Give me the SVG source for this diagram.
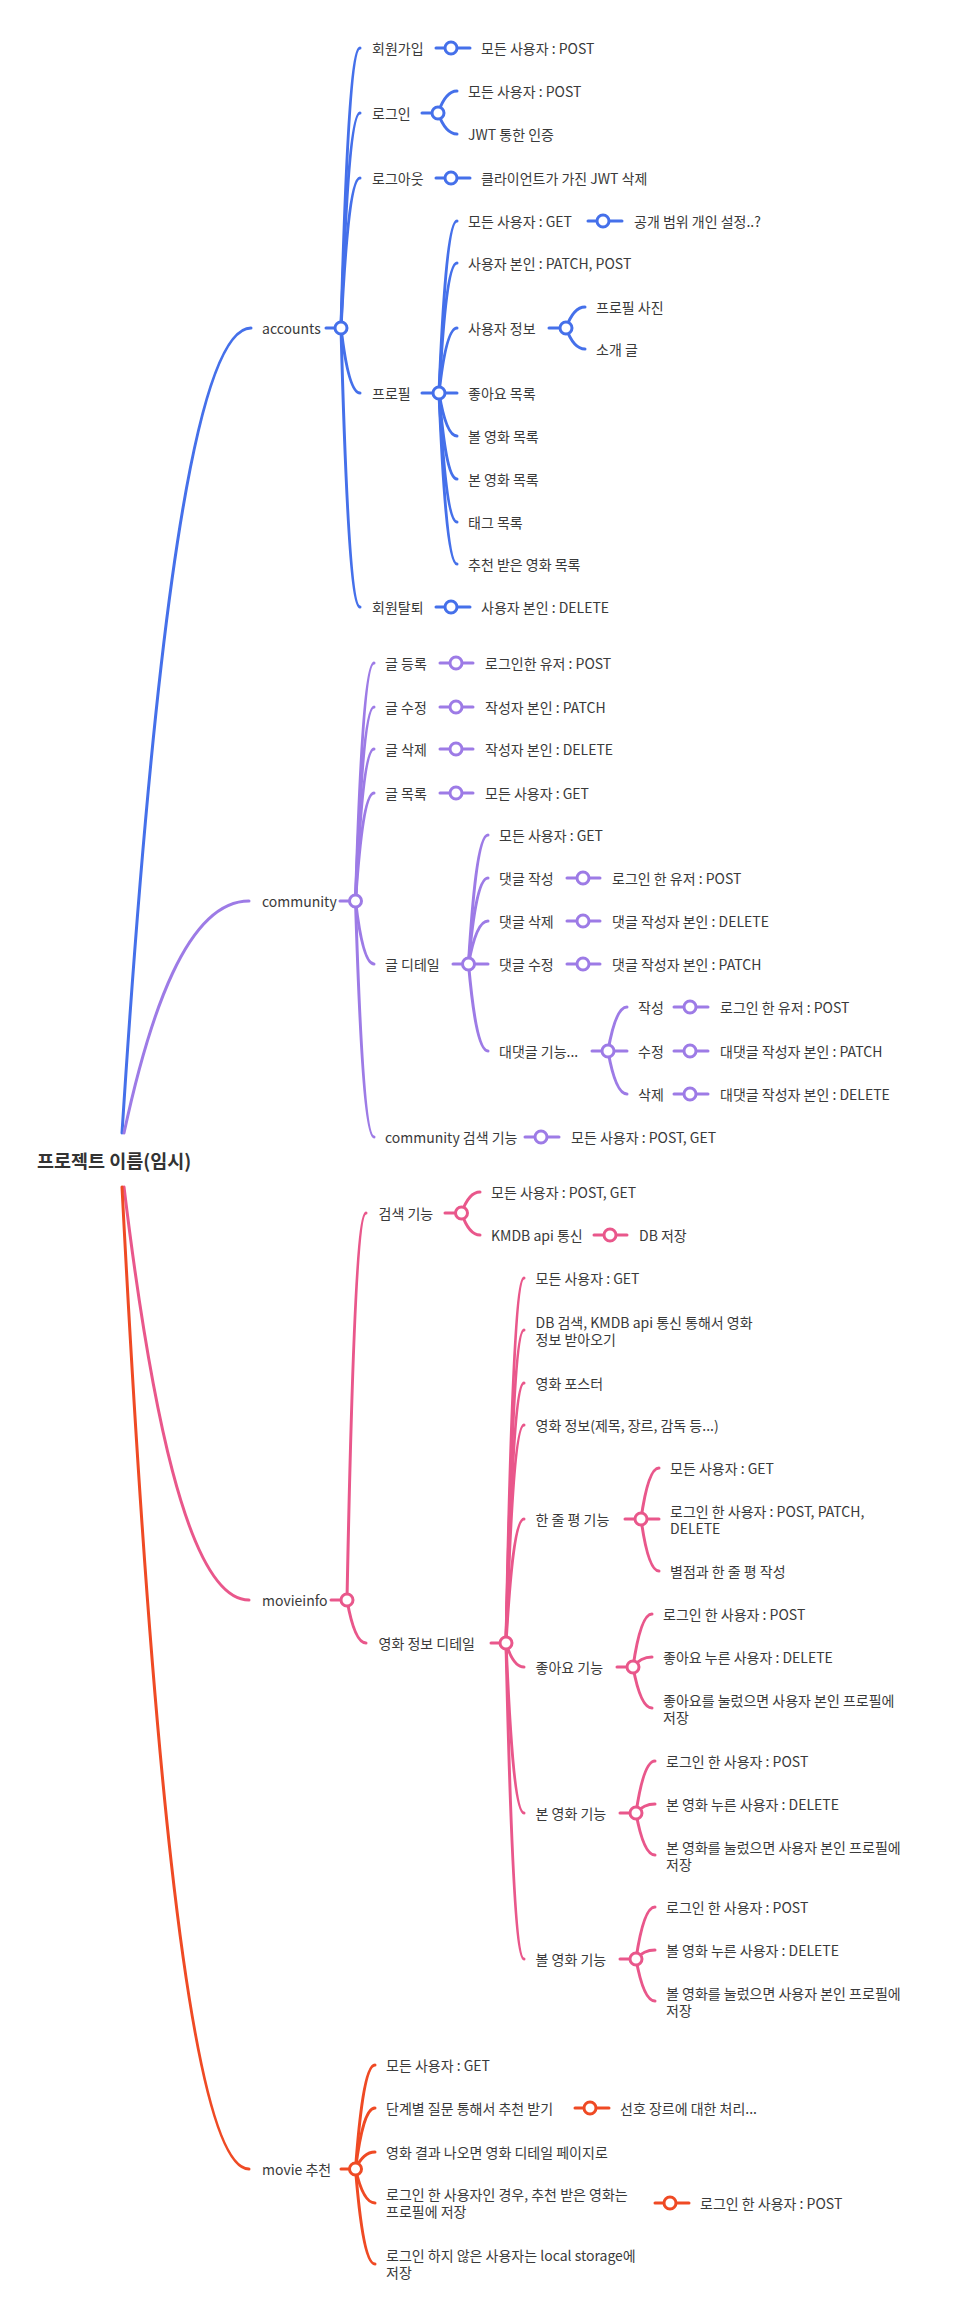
<svg xmlns="http://www.w3.org/2000/svg" width="978" height="2306" viewBox="0 0 978 2306">
<style>
.t{font-family:"Noto Sans CJK KR","Noto Sans",sans-serif;font-size:14px;fill:#3a3a3a;dominant-baseline:central}
.root{font-size:18.5px;font-weight:bold;fill:#333}
path{fill:none;stroke-width:3;stroke-linecap:round}
circle{fill:#fff;stroke-width:3}
.b{stroke:#4570ea}.p{stroke:#9d7be6}.k{stroke:#e9578b}.r{stroke:#ef4a24}
</style>
<rect width="978" height="2306" fill="#fff"/>
<g id="connectors">
<g class="b">
<path d="M122 1133 C147.8 730.5 186.5 328 251 328"/>
<path d="M326 328 H341"/>
<path d="M341 328 C344.8 188 350.5 48 360 48"/>
<path d="M341 328 C344.8 220.5 350.5 113 360 113"/>
<path d="M341 328 C344.8 253 350.5 178 360 178"/>
<path d="M341 328 C344.8 360.5 350.5 393 360 393"/>
<path d="M341 328 C344.8 467.5 350.5 607 360 607"/>
<path d="M436 48 H470"/>
<path d="M422 113 H438"/>
<path d="M438 113 C441.8 102 447.5 91 457 91"/>
<path d="M438 113 C441.8 123.5 447.5 134 457 134"/>
<path d="M436 178 H470"/>
<path d="M422 393 H439"/>
<path d="M439 393 C442.6 307 448 221 457 221"/>
<path d="M439 393 C442.6 328 448 263 457 263"/>
<path d="M439 393 C442.6 360.5 448 328 457 328"/>
<path d="M439 393 H457"/>
<path d="M439 393 C442.6 414.5 448 436 457 436"/>
<path d="M439 393 C442.6 436 448 479 457 479"/>
<path d="M439 393 C442.6 457.5 448 522 457 522"/>
<path d="M439 393 C442.6 478.5 448 564 457 564"/>
<path d="M588 221 H622"/>
<path d="M549 328 H566"/>
<path d="M566 328 C569.8 317.5 575.5 307 585 307"/>
<path d="M566 328 C569.8 338.5 575.5 349 585 349"/>
<path d="M436 607 H470"/>
<circle cx="341" cy="328" r="6"/>
<circle cx="451" cy="48" r="6"/>
<circle cx="438" cy="113" r="6"/>
<circle cx="451" cy="178" r="6"/>
<circle cx="439" cy="393" r="6"/>
<circle cx="603" cy="221" r="6"/>
<circle cx="566" cy="328" r="6"/>
<circle cx="451" cy="607" r="6"/>
</g>
<g class="p">
<path d="M124 1133 C149 1017 186.5 901 249 901"/>
<path d="M340 901 H355.5"/>
<path d="M355.5 901 C359.2 782 364.8 663 374 663"/>
<path d="M355.5 901 C359.2 804 364.8 707 374 707"/>
<path d="M355.5 901 C359.2 825 364.8 749 374 749"/>
<path d="M355.5 901 C359.2 847 364.8 793 374 793"/>
<path d="M355.5 901 C359.2 932.5 364.8 964 374 964"/>
<path d="M355.5 901 C359.2 1019 364.8 1137 374 1137"/>
<path d="M440 663 H473"/>
<path d="M440 707 H473"/>
<path d="M440 749 H473"/>
<path d="M440 793 H473"/>
<path d="M453 964 H468.5"/>
<path d="M468.5 964 C472.4 899.5 478.2 835 488 835"/>
<path d="M468.5 964 C472.4 921 478.2 878 488 878"/>
<path d="M468.5 964 C472.4 942.5 478.2 921 488 921"/>
<path d="M468.5 964 H488"/>
<path d="M468.5 964 C472.4 1007.5 478.2 1051 488 1051"/>
<path d="M567 878 H600"/>
<path d="M567 921 H600"/>
<path d="M567 964 H600"/>
<path d="M592 1051 H608"/>
<path d="M608 1051 C611.8 1029 617.5 1007 627 1007"/>
<path d="M608 1051 H627"/>
<path d="M608 1051 C611.8 1072.5 617.5 1094 627 1094"/>
<path d="M674 1007 H708"/>
<path d="M674 1051 H708"/>
<path d="M674 1094 H708"/>
<path d="M525 1137 H559"/>
<circle cx="355.5" cy="901" r="6"/>
<circle cx="456" cy="663" r="6"/>
<circle cx="456" cy="707" r="6"/>
<circle cx="456" cy="749" r="6"/>
<circle cx="456" cy="793" r="6"/>
<circle cx="468.5" cy="964" r="6"/>
<circle cx="583" cy="878" r="6"/>
<circle cx="583" cy="921" r="6"/>
<circle cx="583" cy="964" r="6"/>
<circle cx="608" cy="1051" r="6"/>
<circle cx="690" cy="1007" r="6"/>
<circle cx="690" cy="1051" r="6"/>
<circle cx="690" cy="1094" r="6"/>
<circle cx="541" cy="1137" r="6"/>
</g>
<g class="k">
<path d="M124 1187 C149 1393.5 186.5 1600 249 1600"/>
<path d="M331 1600 H347"/>
<path d="M347 1600 C350.8 1406.5 356.5 1213 366 1213"/>
<path d="M347 1600 C350.8 1621.5 356.5 1643 366 1643"/>
<path d="M445 1213 H461.5"/>
<path d="M461.5 1213 C465.2 1202.5 470.8 1192 480 1192"/>
<path d="M461.5 1213 C465.2 1224 470.8 1235 480 1235"/>
<path d="M594 1235 H627"/>
<path d="M491 1643 H506"/>
<path d="M506 1643 C509.6 1460.5 515 1278 524 1278"/>
<path d="M506 1643 C509.6 1486.5 515 1330 524 1330"/>
<path d="M506 1643 C509.6 1513 515 1383 524 1383"/>
<path d="M506 1643 C509.6 1534 515 1425 524 1425"/>
<path d="M506 1643 C509.6 1581 515 1519 524 1519"/>
<path d="M506 1643 C509.6 1655 515 1667 524 1667"/>
<path d="M506 1643 C509.6 1728 515 1813 524 1813"/>
<path d="M506 1643 C509.6 1801 515 1959 524 1959"/>
<path d="M625 1519 H641"/>
<path d="M641 1519 C644.6 1493.5 650 1468 659 1468"/>
<path d="M641 1519 H659"/>
<path d="M641 1519 C644.6 1545 650 1571 659 1571"/>
<path d="M617 1667 H633"/>
<path d="M633 1667 C636.8 1640.5 642.5 1614 652 1614"/>
<path d="M633 1667 C636.8 1662 642.5 1657 652 1657"/>
<path d="M633 1667 C636.8 1687.5 642.5 1708 652 1708"/>
<path d="M620 1813 H636"/>
<path d="M636 1813 C639.8 1787 645.5 1761 655 1761"/>
<path d="M636 1813 C639.8 1808.5 645.5 1804 655 1804"/>
<path d="M636 1813 C639.8 1834 645.5 1855 655 1855"/>
<path d="M620 1959 H636"/>
<path d="M636 1959 C639.8 1933 645.5 1907 655 1907"/>
<path d="M636 1959 C639.8 1954.5 645.5 1950 655 1950"/>
<path d="M636 1959 C639.8 1980 645.5 2001 655 2001"/>
<circle cx="347" cy="1600" r="6"/>
<circle cx="461.5" cy="1213" r="6"/>
<circle cx="610" cy="1235" r="6"/>
<circle cx="506" cy="1643" r="6"/>
<circle cx="641" cy="1519" r="6"/>
<circle cx="633" cy="1667" r="6"/>
<circle cx="636" cy="1813" r="6"/>
<circle cx="636" cy="1959" r="6"/>
</g>
<g class="r">
<path d="M122 1187 C147.4 1678 185.5 2169 249 2169"/>
<path d="M341 2169 H355.5"/>
<path d="M355.5 2169 C359.4 2117 365.2 2065 375 2065"/>
<path d="M355.5 2169 C359.4 2138.5 365.2 2108 375 2108"/>
<path d="M355.5 2169 C359.4 2160.5 365.2 2152 375 2152"/>
<path d="M355.5 2169 C359.4 2186 365.2 2203 375 2203"/>
<path d="M355.5 2169 C359.4 2216.5 365.2 2264 375 2264"/>
<path d="M575 2108 H609"/>
<path d="M655 2203 H689"/>
<circle cx="355.5" cy="2169" r="6"/>
<circle cx="590" cy="2108" r="6"/>
<circle cx="670" cy="2203" r="6"/>
</g>
</g>
<g id="root"><text class="t root" x="37" y="1160">프로젝트 이름(임시)</text></g>
<g id="accounts" class="t">
<text class="t" x="262" y="328">accounts</text>
<text class="t" x="372" y="48">회원가입</text>
<text class="t" x="481" y="48">모든 사용자 : POST</text>
<text class="t" x="372" y="113">로그인</text>
<text class="t" x="468" y="91">모든 사용자 : POST</text>
<text class="t" x="468" y="134">JWT 통한 인증</text>
<text class="t" x="372" y="178">로그아웃</text>
<text class="t" x="481" y="178">클라이언트가 가진 JWT 삭제</text>
<text class="t" x="372" y="393">프로필</text>
<text class="t" x="468" y="221">모든 사용자 : GET</text>
<text class="t" x="634" y="221">공개 범위 개인 설정..?</text>
<text class="t" x="468" y="263">사용자 본인 : PATCH, POST</text>
<text class="t" x="468" y="328">사용자 정보</text>
<text class="t" x="596" y="307">프로필 사진</text>
<text class="t" x="596" y="349">소개 글</text>
<text class="t" x="468" y="393">좋아요 목록</text>
<text class="t" x="468" y="436">볼 영화 목록</text>
<text class="t" x="468" y="479">본 영화 목록</text>
<text class="t" x="468" y="522">태그 목록</text>
<text class="t" x="468" y="564">추천 받은 영화 목록</text>
<text class="t" x="372" y="607">회원탈퇴</text>
<text class="t" x="481" y="607">사용자 본인 : DELETE</text>
</g>
<g id="community">
<text class="t" x="262" y="901">community</text>
<text class="t" x="385" y="663">글 등록</text>
<text class="t" x="485" y="663">로그인한 유저 : POST</text>
<text class="t" x="385" y="707">글 수정</text>
<text class="t" x="485" y="707">작성자 본인 : PATCH</text>
<text class="t" x="385" y="749">글 삭제</text>
<text class="t" x="485" y="749">작성자 본인 : DELETE</text>
<text class="t" x="385" y="793">글 목록</text>
<text class="t" x="485" y="793">모든 사용자 : GET</text>
<text class="t" x="385" y="964">글 디테일</text>
<text class="t" x="499" y="835">모든 사용자 : GET</text>
<text class="t" x="499" y="878">댓글 작성</text>
<text class="t" x="612" y="878">로그인 한 유저 : POST</text>
<text class="t" x="499" y="921">댓글 삭제</text>
<text class="t" x="612" y="921">댓글 작성자 본인 : DELETE</text>
<text class="t" x="499" y="964">댓글 수정</text>
<text class="t" x="612" y="964">댓글 작성자 본인 : PATCH</text>
<text class="t" x="499" y="1051">대댓글 기능...</text>
<text class="t" x="638" y="1007">작성</text>
<text class="t" x="720" y="1007">로그인 한 유저 : POST</text>
<text class="t" x="638" y="1051">수정</text>
<text class="t" x="720" y="1051">대댓글 작성자 본인 : PATCH</text>
<text class="t" x="638" y="1094">삭제</text>
<text class="t" x="720" y="1094">대댓글 작성자 본인 : DELETE</text>
<text class="t" x="385" y="1137">community 검색 기능</text>
<text class="t" x="571" y="1137">모든 사용자 : POST, GET</text>
</g>
<g id="movieinfo">
<text class="t" x="262" y="1600">movieinfo</text>
<text class="t" x="378.5" y="1213">검색 기능</text>
<text class="t" x="491" y="1192">모든 사용자 : POST, GET</text>
<text class="t" x="491" y="1235">KMDB api 통신</text>
<text class="t" x="639" y="1235">DB 저장</text>
<text class="t" x="378.5" y="1643">영화 정보 디테일</text>
<text class="t" x="535.5" y="1278">모든 사용자 : GET</text>
<text class="t" x="535.5" y="1322">DB 검색, KMDB api 통신 통해서 영화</text>
<text class="t" x="535.5" y="1339">정보 받아오기</text>
<text class="t" x="535.5" y="1383">영화 포스터</text>
<text class="t" x="535.5" y="1425">영화 정보(제목, 장르, 감독 등...)</text>
<text class="t" x="535.5" y="1519">한 줄 평 기능</text>
<text class="t" x="670" y="1468">모든 사용자 : GET</text>
<text class="t" x="670" y="1511">로그인 한 사용자 : POST, PATCH,</text>
<text class="t" x="670" y="1528">DELETE</text>
<text class="t" x="670" y="1571">별점과 한 줄 평 작성</text>
<text class="t" x="535.5" y="1667">좋아요 기능</text>
<text class="t" x="663" y="1614">로그인 한 사용자 : POST</text>
<text class="t" x="663" y="1657">좋아요 누른 사용자 : DELETE</text>
<text class="t" x="663" y="1700">좋아요를 눌렀으면 사용자 본인 프로필에</text>
<text class="t" x="663" y="1717">저장</text>
<text class="t" x="535.5" y="1813">본 영화 기능</text>
<text class="t" x="666" y="1761">로그인 한 사용자 : POST</text>
<text class="t" x="666" y="1804">본 영화 누른 사용자 : DELETE</text>
<text class="t" x="666" y="1847">본 영화를 눌렀으면 사용자 본인 프로필에</text>
<text class="t" x="666" y="1864">저장</text>
<text class="t" x="535.5" y="1959">볼 영화 기능</text>
<text class="t" x="666" y="1907">로그인 한 사용자 : POST</text>
<text class="t" x="666" y="1950">볼 영화 누른 사용자 : DELETE</text>
<text class="t" x="666" y="1993">볼 영화를 눌렀으면 사용자 본인 프로필에</text>
<text class="t" x="666" y="2010">저장</text>
</g>
<g id="movie-recommend">
<text class="t" x="262" y="2169">movie 추천</text>
<text class="t" x="386" y="2065">모든 사용자 : GET</text>
<text class="t" x="386" y="2108">단계별 질문 통해서 추천 받기</text>
<text class="t" x="620" y="2108">선호 장르에 대한 처리...</text>
<text class="t" x="386" y="2152">영화 결과 나오면 영화 디테일 페이지로</text>
<text class="t" x="386" y="2194">로그인 한 사용자인 경우, 추천 받은 영화는</text>
<text class="t" x="386" y="2211">프로필에 저장</text>
<text class="t" x="700" y="2203">로그인 한 사용자 : POST</text>
<text class="t" x="386" y="2255">로그인 하지 않은 사용자는 local storage에</text>
<text class="t" x="386" y="2272">저장</text>
</g>
</svg>
